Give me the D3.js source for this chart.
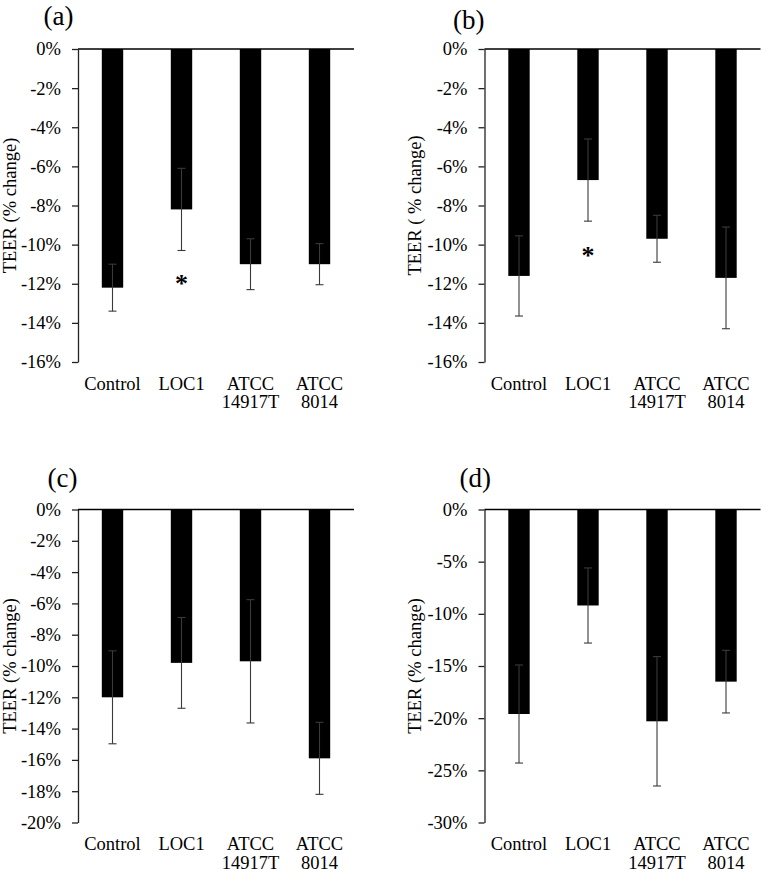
<!DOCTYPE html>
<html>
<head>
<meta charset="utf-8">
<script src="https://cdn.jsdelivr.net/npm/d3@7"></script>
<style>
  body { margin: 0; background: #fff; }
  text { font-family: 'Liberation Serif', 'Times New Roman', serif; fill: #000; }
</style>
</head>
<body>
<script>

var width = 761,
    height = 872;

// groups along the x axis (space splits the label onto two lines)
var categories = ['Control', 'LOC1', 'ATCC 14917T', 'ATCC 8014'];

// mean TEER change (%) and error (+/-) per panel
var meanA = [-12.2, -8.2, -11.0, -11.0];
var errA  = [1.2, 2.1, 1.3, 1.05];
var meanB = [-11.6, -6.7, -9.7, -11.7];
var errB  = [2.05, 2.1, 1.2, 2.6];
var meanC = [-12.0, -9.8, -9.7, -15.9];
var errC  = [2.97, 2.9, 3.94, 2.3];
var meanD = [-19.6, -9.2, -20.3, -16.5];
var errD  = [4.7, 3.6, 6.2, 3.0];

// y axis ranges and tick steps
var yMinA = -16, yStepA = 2;
var yMinB = -16, yStepB = 2;
var yMinC = -20, yStepC = 2;
var yMinD = -30, yStepD = 5;

// significance marks: [category index, y value]
var starsA = [[1, -11.8]];
var starsB = [[1, -10.4]];

var titles = ['TEER (% change)', 'TEER ( % change)', 'TEER (% change)', 'TEER (% change)'];
var panelNames = ['(a)', '(b)', '(c)', '(d)'];

var svg = d3.select('body')
    .append('svg')
    .attr('width', width)
    .attr('height', height);

var layouts = [
    {left: 78,    right: 354,   top: 49,    bottom: 362,   labX: 43.5,  labY: 25,  titleX: 15.5},
    {left: 484.5, right: 760.5, top: 49,    bottom: 362,   labX: 453,   labY: 29,  titleX: 421},
    {left: 78,    right: 354,   top: 509.5, bottom: 822.5, labX: 47.5,  labY: 487, titleX: 15.5},
    {left: 484.5, right: 760.5, top: 509.5, bottom: 822.5, labX: 459.5, labY: 487, titleX: 421}
];

var panels = [
    {mean: meanA, err: errA, yMin: yMinA, step: yStepA, stars: starsA},
    {mean: meanB, err: errB, yMin: yMinB, step: yStepB, stars: starsB},
    {mean: meanC, err: errC, yMin: yMinC, step: yStepC, stars: []},
    {mean: meanD, err: errD, yMin: yMinD, step: yStepD, stars: []}
];

var drawPanel = function(p, i) {
    var lay = layouts[i];
    var g = svg.append('g');

    var x = d3.scaleBand()
        .domain(categories)
        .range([lay.left, lay.right])
        .paddingInner(0.69)
        .paddingOuter(0.345);

    var y = d3.scaleLinear()
        .domain([p.yMin, 0])
        .range([lay.bottom, lay.top]);

    var rows = categories.map(function(c, k) {
        return {cat: c, mean: p.mean[k], err: p.err[k]};
    });

    // bars hang down from zero
    g.selectAll('rect.bar')
        .data(rows)
        .enter()
        .append('rect')
        .classed('bar', true)
        .attr('x', function(d) { return x(d.cat); })
        .attr('width', x.bandwidth())
        .attr('y', y(0))
        .attr('height', function(d) { return y(d.mean) - y(0); })
        .style('fill', '#000');

    // error bars
    var eb = g.selectAll('g.err')
        .data(rows)
        .enter()
        .append('g')
        .classed('err', true)
        .style('stroke', '#3a3a3a')
        .style('stroke-width', 1.1);

    eb.append('line')
        .attr('x1', function(d) { return x(d.cat) + x.bandwidth() / 2; })
        .attr('x2', function(d) { return x(d.cat) + x.bandwidth() / 2; })
        .attr('y1', function(d) { return y(d.mean + d.err); })
        .attr('y2', function(d) { return y(d.mean - d.err); });

    [1, -1].forEach(function(s) {
        eb.append('line')
            .attr('x1', function(d) { return x(d.cat) + x.bandwidth() / 2 - 4; })
            .attr('x2', function(d) { return x(d.cat) + x.bandwidth() / 2 + 4; })
            .attr('y1', function(d) { return y(d.mean + s * d.err); })
            .attr('y2', function(d) { return y(d.mean + s * d.err); });
    });

    // y axis
    var yAxis = d3.axisLeft(y)
        .tickValues(d3.range(0, p.yMin - p.step / 2, -p.step))
        .tickFormat(function(d) { return d + '%'; })
        .tickSize(6)
        .tickSizeOuter(0)
        .tickPadding(11);

    var ax = g.append('g')
        .attr('transform', 'translate(' + lay.left + ',0)')
        .call(yAxis);
    ax.select('.domain').style('stroke', '#222').style('stroke-width', 1.3);
    ax.selectAll('.tick line').style('stroke', '#222').style('stroke-width', 1.3);
    ax.selectAll('.tick text')
        .style('font-family', "'Liberation Serif', 'Times New Roman', serif")
        .style('font-size', '18.5px')
        .style('fill', '#000');

    // zero line across the plot
    g.append('line')
        .attr('x1', lay.left)
        .attr('x2', lay.right)
        .attr('y1', y(0))
        .attr('y2', y(0))
        .style('stroke', '#000')
        .style('stroke-width', 1.3);

    // category labels under the plot
    var lbl = g.selectAll('text.cat')
        .data(categories)
        .enter()
        .append('text')
        .classed('cat', true)
        .attr('text-anchor', 'middle')
        .style('font-size', '18.5px')
        .attr('x', function(d) { return x(d) + x.bandwidth() / 2; })
        .attr('y', lay.bottom + 27.5);

    lbl.selectAll('tspan')
        .data(function(d) { return d.split(' '); })
        .enter()
        .append('tspan')
        .attr('x', function() { return d3.select(this.parentNode).attr('x'); })
        .attr('dy', function(d, k) { return k === 0 ? 0 : 18.5; })
        .text(function(d) { return d; });

    // axis title
    g.append('text')
        .attr('transform', 'translate(' + lay.titleX + ',' + (lay.top + lay.bottom) / 2 + ') rotate(-90)')
        .attr('text-anchor', 'middle')
        .style('font-size', '18.5px')
        .text(titles[i]);

    // panel letter
    g.append('text')
        .attr('x', lay.labX)
        .attr('y', lay.labY)
        .style('font-size', '27px')
        .text(panelNames[i]);

    // asterisks
    g.selectAll('text.star')
        .data(p.stars)
        .enter()
        .append('text')
        .classed('star', true)
        .attr('text-anchor', 'middle')
        .attr('x', function(d) { return x(categories[d[0]]) + x.bandwidth() / 2; })
        .attr('y', function(d) { return y(d[1]) + 12; })
        .style('font-size', '26px')
        .style('font-weight', 'bold')
        .text('*');
};

panels.forEach(drawPanel);

</script>
</body>
</html>
